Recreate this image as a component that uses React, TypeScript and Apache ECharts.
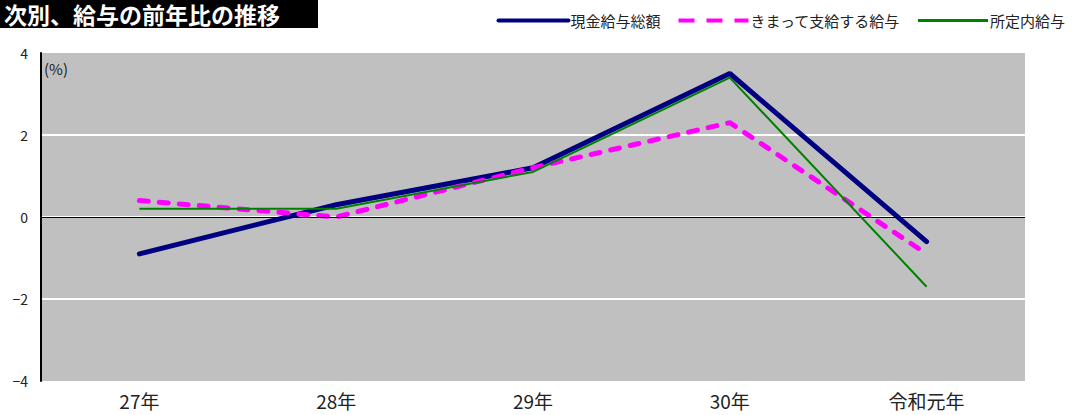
import React, { useEffect, useRef } from "react";
import * as echarts from "echarts";

const categories = ["27年", "28年", "29年", "30年", "令和元年"];
const totalWages = [-0.9, 0.3, 1.2, 3.5, -0.6];
const regularWages = [0.4, 0.0, 1.2, 2.3, -0.9];
const scheduledWages = [0.2, 0.2, 1.1, 3.4, -1.7];
const seriesNames = ["現金給与総額", "きまって支給する給与", "所定内給与"];
const yTicks = { min: -4, max: 4, step: 2 };

const FONT = "'Noto Sans CJK JP', 'Noto Sans', sans-serif";

const formatPercent = (v: number) => (v < 0 ? "\u2212" + Math.abs(v) : String(v));

export default function App() {
  const ref = useRef<HTMLDivElement>(null);

  useEffect(() => {
    if (!ref.current) return;
    const chart = echarts.init(ref.current, undefined, { renderer: "svg" });
    chart.setOption({
      animation: false,
      backgroundColor: "#ffffff",
      textStyle: { fontFamily: FONT },
      grid: {
        left: 41,
        right: 55,
        top: 53,
        bottom: 34,
        show: true,
        backgroundColor: "#c0c0c0",
        borderWidth: 0,
      },
      legend: {
        right: 10,
        top: 8,
        itemWidth: 70,
        itemHeight: 14,
        itemGap: 16,
        itemStyle: { opacity: 0 },
        textStyle: { fontSize: 15, color: "#222", fontFamily: FONT, padding: [3, 0, 0, -3] },
        data: [
          { name: seriesNames[0], lineStyle: { width: 4 } },
          { name: seriesNames[1], lineStyle: { width: 4, type: [16, 12], cap: "butt" } },
          { name: seriesNames[2], lineStyle: { width: 3 } },
        ],
      },
      graphic: [
        {
          type: "rect",
          left: 0,
          top: 0,
          shape: { width: 318, height: 28 },
          style: { fill: "#000000" },
        },
        {
          type: "text",
          x: 4,
          y: 2,
          style: {
            text: "次別、給与の前年比の推移",
            fill: "#ffffff",
            font: `bold 23px ${FONT}`,
            verticalAlign: "top",
          },
        },
        {
          type: "text",
          left: 44,
          top: 61,
          style: { text: "(%)", fill: "#222", font: `15px ${FONT}` },
        },
      ],
      xAxis: {
        type: "category",
        data: categories,
        boundaryGap: true,
        axisLine: { show: false },
        axisTick: { show: false },
        axisLabel: { fontSize: 19, color: "#222", margin: 10, fontFamily: FONT },
        splitLine: { show: false },
      },
      yAxis: {
        type: "value",
        min: yTicks.min,
        max: yTicks.max,
        interval: yTicks.step,
        axisLine: { show: true, lineStyle: { color: "#000", width: 2 } },
        axisTick: { show: false },
        axisLabel: {
          fontSize: 14,
          color: "#222",
          margin: 13,
          fontFamily: FONT,
          padding: [8, 0, 0, 0],
          formatter: formatPercent,
        },
        splitLine: {
          show: true,
          showMinLine: false,
          showMaxLine: false,
          lineStyle: { color: "#ffffff", width: 2 },
        },
      },
      series: [
        {
          name: seriesNames[0],
          type: "line",
          data: totalWages,
          symbol: "none",
          z: 3,
          lineStyle: { color: "#000080", width: 5, cap: "round" },
          itemStyle: { color: "#000080" },
          markLine: {
            silent: true,
            symbol: "none",
            label: { show: false },
            lineStyle: { color: "#000", width: 1, type: "solid" },
            data: [{ yAxis: 0 }],
          },
        },
        {
          name: seriesNames[1],
          type: "line",
          data: regularWages,
          symbol: "none",
          z: 4,
          lineStyle: { color: "#ff00ff", width: 5, type: [9, 11], cap: "round" },
          itemStyle: { color: "#ff00ff" },
        },
        {
          name: seriesNames[2],
          type: "line",
          data: scheduledWages,
          symbol: "none",
          z: 5,
          lineStyle: { color: "#008000", width: 2 },
          itemStyle: { color: "#008000" },
        },
      ],
    });
    return () => chart.dispose();
  }, []);

  return <div ref={ref} style={{ width: 1080, height: 415, position: "absolute", left: 0, top: 0 }} />;
}
